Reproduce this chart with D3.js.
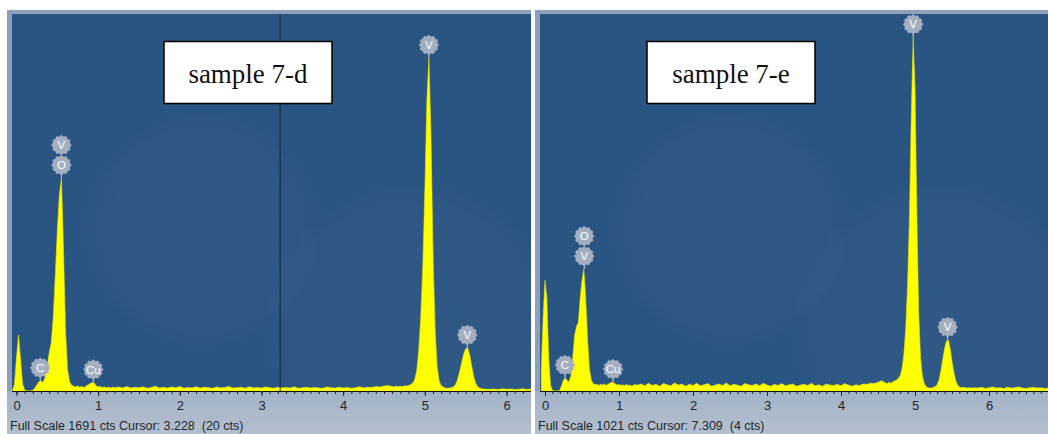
<!DOCTYPE html>
<html>
<head>
<meta charset="utf-8">
<script src="https://cdn.jsdelivr.net/npm/d3@7"></script>
<style>
  body { margin: 0; background: #fff; }
  svg { display: block; }
</style>
</head>
<body>
<div id="chart"></div>
<script>
// energy axis (keV), shared by both spectra
const energy = [
  -0.05, -0.025,
  0, 0.025, 0.05, 0.075, 0.1, 0.125, 0.15, 0.175, 0.2, 0.225,
  0.25, 0.275, 0.3, 0.325, 0.35, 0.375, 0.4, 0.425, 0.45, 0.475,
  0.5, 0.525, 0.55, 0.575, 0.6, 0.625, 0.65, 0.675, 0.7, 0.725,
  0.75, 0.775, 0.8, 0.825, 0.85, 0.875, 0.9, 0.925, 0.95, 0.975,
  1.0, 1.025, 1.05, 1.075, 1.1, 1.125, 1.15, 1.175, 1.2,
  1.25, 1.3, 1.35, 1.4, 1.45, 1.5, 1.55, 1.6, 1.65, 1.7,
  1.75, 1.8, 1.85, 1.9, 1.95, 2.0, 2.05, 2.1, 2.15, 2.2,
  2.25, 2.3, 2.35, 2.4, 2.45, 2.5, 2.55, 2.6, 2.65, 2.7,
  2.75, 2.8, 2.85, 2.9, 2.95, 3.0, 3.05, 3.1, 3.15, 3.2,
  3.25, 3.3, 3.35, 3.4, 3.45, 3.5, 3.55, 3.6, 3.65, 3.7,
  3.75, 3.8, 3.85, 3.9, 3.95, 4.0, 4.05, 4.1, 4.15, 4.2,
  4.25, 4.3, 4.35, 4.4, 4.45, 4.5, 4.55,
  4.6, 4.625, 4.65, 4.675, 4.7, 4.725, 4.75, 4.775,
  4.8, 4.825, 4.85, 4.875, 4.9, 4.925, 4.95, 4.975,
  5.0, 5.025, 5.05, 5.075, 5.1, 5.125, 5.15, 5.175,
  5.2, 5.225, 5.25, 5.275, 5.3, 5.325, 5.35, 5.375,
  5.4, 5.425, 5.45, 5.475, 5.5, 5.525, 5.55, 5.575,
  5.6, 5.625, 5.65, 5.675, 5.7, 5.725, 5.75,
  5.8, 5.85, 5.9, 5.95, 6.0, 6.05, 6.1, 6.15, 6.2, 6.25,
  6.3, 6.35, 6.4, 6.45, 6.5, 6.55, 6.6, 6.65, 6.7, 6.75, 6.8
];

// counts, sample 7-d
const counts7d = [
  2, 30,
  150, 251, 140, 30, 5, 0, 0, 1, 3, 14,
  28, 42, 46, 38, 60, 110, 170, 215, 330, 520,
  720, 880, 955, 640, 270, 95, 42, 26, 21, 18,
  23, 16, 21, 15, 22, 27, 33, 38, 36, 24,
  18, 21, 15, 19, 14, 18, 13, 17, 15,
  18, 14, 20, 13, 17, 15, 19, 12, 16, 21,
  14, 17, 13, 18, 15, 20, 12, 16, 14, 19,
  13, 17, 15, 12, 18, 14, 16, 20, 13, 15,
  17, 12, 19, 14, 16, 13, 18, 15, 12, 17,
  14, 16, 13, 19, 12, 15, 17, 13, 16, 14,
  12, 18, 15, 13, 17, 14, 16, 12, 15, 19,
  14, 17, 16, 20, 18, 22, 25,
  20, 18, 22, 19, 21, 20, 23, 22,
  25, 28, 35, 50, 90, 180, 330, 560,
  900, 1300, 1494, 1150, 620, 280, 110, 45,
  25, 18, 14, 12, 13, 15, 18, 28,
  50, 85, 125, 165, 190, 193, 160, 110,
  62, 32, 18, 12, 10, 9, 8,
  8, 9, 7, 10, 8, 9, 7, 8, 10, 7,
  9, 8, 7, 9, 8, 10, 7, 8, 9, 7, 8
];

// counts, sample 7-e
const counts7e = [
  60, 200,
  300, 250, 90, 15, 2, 0, 0, 0, 2, 15,
  30, 35, 28, 25, 40, 90, 150, 175, 185, 250,
  300, 330, 250, 140, 60, 30, 20, 17, 19, 15,
  18, 16, 19, 15, 18, 21, 24, 23, 19, 16,
  18, 15, 17, 14, 18, 15, 16, 13, 17,
  16, 19, 14, 21, 15, 18, 13, 20, 17, 14,
  22, 16, 19, 13, 18, 15, 21, 14, 17, 20,
  13, 16, 19, 15, 22, 14, 18, 16, 13, 20,
  17, 15, 19, 14, 21, 16, 13, 18, 15, 20,
  14, 17, 19, 13, 16, 18, 15, 21, 14, 17,
  13, 19, 16, 15, 18, 14, 20, 16, 13, 17,
  15, 19, 18, 21, 20, 24, 28,
  22, 20, 24, 21, 25, 27, 30, 34,
  42, 60, 100, 170, 290, 470, 750, 958,
  820, 480, 210, 90, 40, 20, 12, 9,
  8, 8, 10, 12, 18, 30, 55, 85,
  115, 135, 138, 115, 80, 50, 28, 16,
  11, 9, 10, 9, 8, 9, 8,
  9, 8, 10, 7, 9, 11, 8, 9, 7, 10,
  8, 9, 11, 8, 7, 9, 10, 8, 9, 7, 8
];

const sampleNames = ["sample 7-d", "sample 7-e"];
const fullScale = [1691, 1021];
const cursorKeV = [3.228, 7.309];
const cursorCts = [20, 4];
const tickLabels = [0, 1, 2, 3, 4, 5, 6];

// element markers (symbol, energy in keV); repeated energy -> stacked upward
const labelEl7d = ["C", "O", "V", "Cu", "V", "V"];
const labelKeV7d = [0.29, 0.55, 0.55, 0.94, 5.05, 5.52];
const labelEl7e = ["C", "V", "O", "Cu", "V", "V"];
const labelKeV7e = [0.27, 0.53, 0.53, 0.92, 4.975, 5.44];

const W = 1048, H = 434;
const plotTop = 14, base = 391;

const panels = [
  { name: sampleNames[0], counts: counts7d, full: fullScale[0], cur: cursorKeV[0], curC: cursorCts[0],
    els: labelEl7d, keV: labelKeV7d, fx: 7, px0: 12, px1: 531, r0: 16.5, r1: 506.5, box: 164 },
  { name: sampleNames[1], counts: counts7e, full: fullScale[1], cur: cursorKeV[1], curC: cursorCts[1],
    els: labelEl7e, keV: labelKeV7e, fx: 535, px0: 540, px1: 1048, r0: 545, r1: 989, box: 647 }
];

const svg = d3.select('#chart').append('svg')
  .attr('width', W).attr('height', H)
  .style('font-family', 'Liberation Sans, Arial, sans-serif');

const defs = svg.append('defs');
const bottomGrad = defs.append('linearGradient').attr('id', 'bottom-grad')
  .attr('x1', 0).attr('y1', 0).attr('x2', 0).attr('y2', 1);
bottomGrad.append('stop').attr('offset', '0%').attr('stop-color', '#a2b2c6');
bottomGrad.append('stop').attr('offset', '100%').attr('stop-color', '#b3bfce');

const glow = defs.append('radialGradient').attr('id', 'glow');
glow.append('stop').attr('offset', '0%').attr('stop-color', '#ffffff').attr('stop-opacity', 0.025);
glow.append('stop').attr('offset', '85%').attr('stop-color', '#ffffff').attr('stop-opacity', 0.02);
glow.append('stop').attr('offset', '100%').attr('stop-color', '#ffffff').attr('stop-opacity', 0);

function badgePath(r) {
  // scalloped disc like the EDS element markers
  const pts = d3.range(0, 73).map(i => {
    const a = i / 72 * Math.PI * 2;
    const rr = r + 0.7 * Math.cos(a * 12);
    return [rr * Math.cos(a), rr * Math.sin(a)];
  });
  return d3.line()(pts) + 'Z';
}

panels.forEach((p, pi) => {
  const g = svg.append('g');
  const data = energy.map((e, i) => ({ e, c: p.counts[i] }));

  const x = d3.scaleLinear().domain([0, 6]).range([p.r0, p.r1]);
  const y = d3.scaleLinear().domain([0, p.full]).range([base, plotTop]);

  // frame + lower strip
  g.append('rect').attr('x', p.fx).attr('y', 10).attr('width', p.px1 - p.fx).attr('height', H - 10)
    .attr('fill', '#8d9fba');
  g.append('rect').attr('x', p.fx).attr('y', base).attr('width', p.px1 - p.fx).attr('height', H - base)
    .attr('fill', 'url(#bottom-grad)');

  // plot background
  g.append('rect').attr('x', p.px0).attr('y', plotTop).attr('width', p.px1 - p.px0).attr('height', base - plotTop)
    .attr('fill', '#2a5482');

  const clipId = 'clip-' + pi;
  defs.append('clipPath').attr('id', clipId).append('rect')
    .attr('x', p.px0).attr('y', plotTop).attr('width', p.px1 - p.px0).attr('height', base - plotTop);

  const inner = g.append('g').attr('clip-path', `url(#${clipId})`);

  // faint ghost of the SEM image behind the spectrum
  inner.append('circle').attr('cx', p.px0 + 400).attr('cy', 330).attr('r', 150).attr('fill', 'url(#glow)');
  inner.append('circle').attr('cx', p.px0 + 190).attr('cy', 230).attr('r', 120).attr('fill', 'url(#glow)');

  const area = d3.area()
    .x(d => x(d.e))
    .y0(base)
    .y1(d => y(d.c));

  inner.append('path')
    .datum(data)
    .attr('d', area)
    .attr('fill', '#ffff00')
    .attr('stroke', '#e6e600')
    .attr('stroke-width', 0.6);

  // cursor line
  if (p.cur >= x.invert(p.px0) && p.cur <= x.invert(p.px1)) {
    inner.append('line')
      .attr('x1', x(p.cur)).attr('x2', x(p.cur))
      .attr('y1', plotTop).attr('y2', base)
      .attr('stroke', '#142638').attr('stroke-width', 1);
  }

  // baseline
  g.append('line').attr('x1', p.px0).attr('x2', p.px1).attr('y1', base + 0.5).attr('y2', base + 0.5)
    .attr('stroke', '#111').attr('stroke-width', 1);

  // minor ticks
  const minor = d3.range(0, 68).map(i => i / 10).filter(v => x(v) > p.px0 && x(v) < p.px1 - 1);
  g.append('g').attr('transform', `translate(0,${base})`)
    .call(d3.axisBottom(x).tickValues(minor).tickSize(3).tickFormat(''))
    .call(a => a.select('.domain').remove())
    .call(a => a.selectAll('line').attr('stroke', '#222'));

  // major ticks + labels
  g.append('g').attr('transform', `translate(0,${base})`)
    .call(d3.axisBottom(x).tickValues(tickLabels).tickSize(5).tickPadding(5).tickFormat(d3.format('d')))
    .call(a => a.select('.domain').remove())
    .call(a => a.selectAll('line').attr('stroke', '#222'))
    .call(a => a.selectAll('text').attr('fill', '#1e2630').attr('font-size', 13)
      .style('font-family', 'Liberation Sans, Arial, sans-serif'));

  g.append('text')
    .attr('x', p.px0 - 2).attr('y', 430)
    .attr('font-size', 12.5).attr('fill', '#1e2630')
    .attr('xml:space', 'preserve')
    .text(`Full Scale ${p.full} cts Cursor: ${d3.format('.3f')(p.cur)}  (${p.curC} cts)`);

  // element markers
  const seen = {};
  p.els.forEach((el, i) => {
    const e = p.keV[i];
    const k = String(e);
    const stack = seen[k] || 0;
    seen[k] = stack + 1;
    const near = data.filter(d => Math.abs(d.e - e) <= 0.03);
    const top = y(d3.max(near, d => d.c));
    const cx = x(e);
    const cy = top - 13 - stack * 20;
    if (stack === 0) {
      g.append('line').attr('x1', cx).attr('x2', cx).attr('y1', cy + 7).attr('y2', top)
        .attr('stroke', '#c8d0dc').attr('stroke-width', 1);
    }
    g.append('path').attr('d', badgePath(9)).attr('transform', `translate(${cx},${cy})`)
      .attr('fill', '#a3aec1').attr('stroke', '#b8c1d0').attr('stroke-width', 0.6);
    g.append('text').attr('x', cx).attr('y', cy + 4)
      .attr('text-anchor', 'middle').attr('font-size', 11.5).attr('fill', '#ffffff')
      .text(el);
  });

  // sample name box
  g.append('rect').attr('x', p.box).attr('y', 41.5).attr('width', 168).attr('height', 62)
    .attr('fill', '#ffffff').attr('stroke', '#000').attr('stroke-width', 1.5);
  g.append('text').attr('x', p.box + 84).attr('y', 83)
    .attr('text-anchor', 'middle')
    .style('font-family', 'Liberation Serif, Times New Roman, serif')
    .attr('font-size', 27).attr('fill', '#111')
    .text(p.name);
});
</script>
</body>
</html>
